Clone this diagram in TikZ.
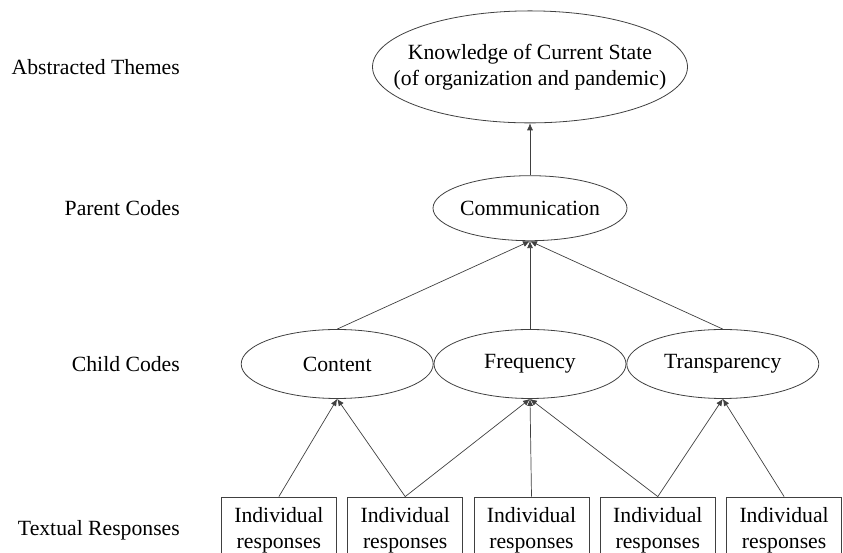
\documentclass[tikz,border=0pt]{standalone}
\usepackage{fontspec}
\setmainfont{Liberation Serif}
\usepackage{tikz}
\usetikzlibrary{shapes.geometric, arrows.meta, positioning}
\DeclareRobustCommand{\lvl}{\rmfamily\fontsize{21.7pt}{26pt}\selectfont}

\begin{document}
\begin{tikzpicture}[
    x=1pt, y=1pt,
    node distance=0pt and 10.5pt,
    code/.style={draw=black!75, line width=0.8pt, ellipse, minimum width=192pt, minimum height=69pt, inner xsep=-12pt, inner ysep=0pt, align=center, font=\lvl},
    resp/.style={draw=black!75, line width=0.8pt, minimum width=115pt, minimum height=66pt, inner sep=0pt, align=center, font=\lvl},
    lbl/.style={anchor=east, inner sep=0pt, font=\lvl},
    arr/.style={-{Latex[length=7pt, width=6pt]}, line width=0.7pt, draw=black!75}
]
\useasboundingbox (0,0) rectangle (843,553);
\node[code] (freq) at (530,189) {Frequency};
\node[code, left=0pt of freq] (content) {Content};
\node[code, right=0pt of freq] (transp) {Transparency};
\node[code, minimum width=194pt, minimum height=65pt, above=88pt of freq] (comm) {Communication};
\node[code, minimum width=315pt, minimum height=112pt, inner xsep=-60pt, above=52pt of comm] (theme) {Knowledge of Current State\\(of organization and pandemic)};

\node[resp] (r3) at (531.5,23) {Individual\\responses};
\node[resp, left=of r3] (r2) {Individual\\responses};
\node[resp, left=of r2] (r1) {Individual\\responses};
\node[resp, right=of r3] (r4) {Individual\\responses};
\node[resp, right=of r4] (r5) {Individual\\responses};

\coordinate (lblx) at (180,0);
\node[lbl] (lbltheme) at (lblx |- theme) {Abstracted Themes};
\node[lbl] (lblparent) at (lblx |- comm) {Parent Codes};
\node[lbl] (lblchild) at (lblx |- freq) {Child Codes};
\node[lbl] (lbltext) at (lblx |- r3) {Textual Responses};

\draw[arr] (comm.north) -- (theme.south);
\draw[arr] (content.north) -- (comm.south);
\draw[arr] (freq.north) -- (comm.south);
\draw[arr] (transp.north) -- (comm.south);
\draw[arr] (r1.north) -- (content.south);
\draw[arr] (r2.north) -- (content.south);
\draw[arr] (r2.north) -- (freq.south);
\draw[arr] (r3.north) -- (freq.south);
\draw[arr] (r4.north) -- (freq.south);
\draw[arr] (r4.north) -- (transp.south);
\draw[arr] (r5.north) -- (transp.south);
\end{tikzpicture}
\end{document}
